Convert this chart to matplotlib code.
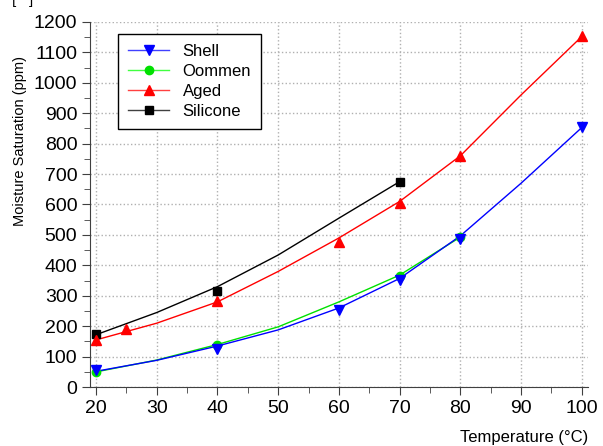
import matplotlib
matplotlib.use("Agg")
import matplotlib.pyplot as plt
from matplotlib.ticker import MultipleLocator

plt.rcParams['font.family'] = ['Liberation Sans', 'DejaVu Sans']

# measured points
shell_t = [20, 40, 60, 70, 80, 100]
shell_v = [55, 125, 252, 352, 485, 853]
oommen_t = [20, 40, 70, 80]
oommen_v = [50, 137, 366, 492]
aged_t = [20, 25, 40, 60, 70, 80, 100]
aged_v = [155, 190, 283, 477, 606, 760, 1152]
silicone_t = [20, 40, 70]
silicone_v = [175, 315, 675]

# fitted curves
shell_ct = [20, 30, 40, 50, 60, 70, 80, 90, 100]
shell_cv = [52, 88, 135, 188, 260, 357, 497, 670, 853]
oommen_ct = [20, 30, 40, 50, 60, 70, 80]
oommen_cv = [50, 89, 140, 198, 280, 368, 493]
aged_ct = [20, 30, 40, 50, 60, 70, 80, 90, 100]
aged_cv = [155, 210, 280, 380, 490, 610, 760, 960, 1152]
silicone_ct = [20, 30, 40, 50, 60, 70]
silicone_cv = [172, 245, 330, 434, 555, 675]

fig = plt.figure(figsize=(6.03, 4.46), dpi=100)
ax = fig.add_axes([0.149, 0.132, 0.826, 0.819])

ax.plot(silicone_ct, silicone_cv, color='black', lw=1)
ax.plot(aged_ct, aged_cv, color='red', lw=1)
ax.plot(oommen_ct, oommen_cv, color='#00e000', lw=1)
ax.plot(shell_ct, shell_cv, color='blue', lw=1)

ax.plot(silicone_t, silicone_v, 's', color='black', ms=5.5, ls='none')
ax.plot(aged_t, aged_v, '^', color='red', ms=7, ls='none')
ax.plot(oommen_t, oommen_v, 'o', color='#00e000', ms=6, ls='none')
ax.plot(shell_t, shell_v, 'v', color='blue', ms=7, ls='none')

# legend proxies
h1, = ax.plot([], [], color='#4040ff', marker='v', ms=7, mfc='blue', mec='blue', lw=1)
h2, = ax.plot([], [], color='#40ff40', marker='o', ms=6, mfc='#00e000', mec='#00e000', lw=1)
h3, = ax.plot([], [], color='#ff4040', marker='^', ms=7, mfc='red', mec='red', lw=1)
h4, = ax.plot([], [], color='#404040', marker='s', ms=5.5, mfc='black', mec='black', lw=1)
leg = ax.legend([h1, h2, h3, h4], ['Shell', 'Oommen', 'Aged', 'Silicone'],
                loc='upper left', bbox_to_anchor=(0.056, 0.967), borderaxespad=0,
                fontsize=12, frameon=True, fancybox=False, edgecolor='black',
                framealpha=1, handlelength=2.5, handletextpad=0.8,
                borderpad=0.6, labelspacing=0.3)
leg.get_frame().set_linewidth(1)

ax.set_xlim(19, 101)
ax.set_ylim(0, 1200)
ax.xaxis.set_major_locator(MultipleLocator(10))
ax.xaxis.set_minor_locator(MultipleLocator(5))
ax.yaxis.set_major_locator(MultipleLocator(100))
ax.yaxis.set_minor_locator(MultipleLocator(50))
ax.grid(True, which='major', color='#b0b0b0', ls=':', lw=1)
ax.set_axisbelow(True)

for s in ['top', 'right']:
    ax.spines[s].set_visible(False)
for s in ['left', 'bottom']:
    ax.spines[s].set_color('#404040')
ax.tick_params(which='major', length=6, color='#404040', labelsize=14, pad=3)
ax.tick_params(which='minor', length=4, color='#404040')

ax.set_ylabel('Moisture Saturation (ppm)', fontsize=10.5, va='center')
ax.yaxis.set_label_coords(-0.14, 0.674)
ax.text(1.0, -0.137, 'Temperature (°C)', transform=ax.transAxes,
        ha='right', va='center', fontsize=12)

fig.text(0.02, 1.0, '[   ]', fontsize=11, va='center')

fig.savefig('out.png', dpi=100)
